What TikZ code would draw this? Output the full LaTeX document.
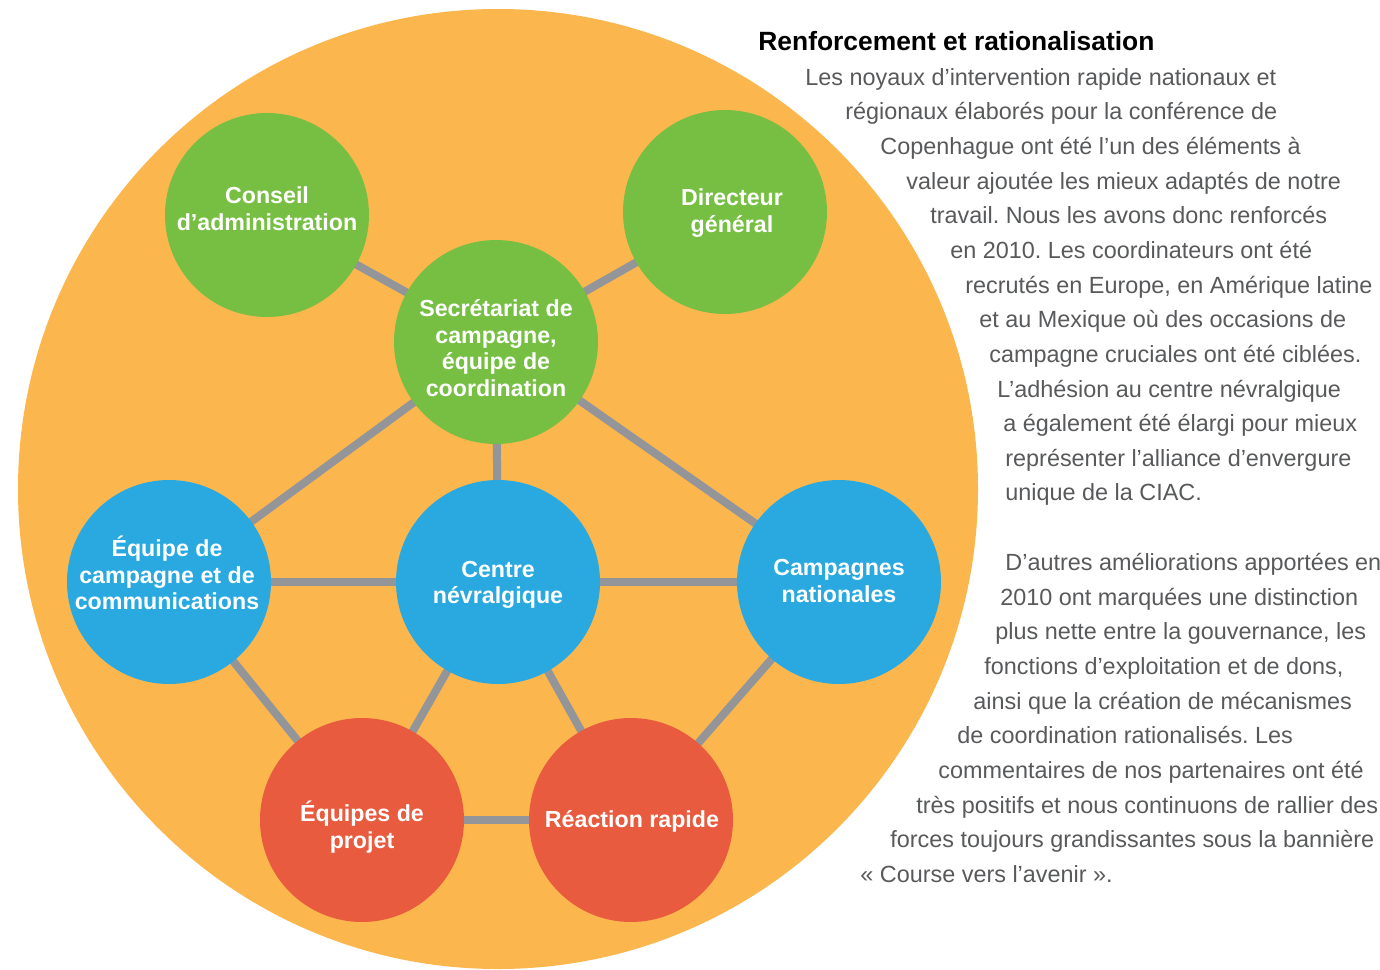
\documentclass[tikz,border=0pt]{standalone}
\usepackage{fontspec}
\setmainfont{Liberation Sans}
\usetikzlibrary{backgrounds}
\definecolor{bigorange}{HTML}{FBB74E}
\definecolor{cgreen}{HTML}{76BF43}
\definecolor{cblue}{HTML}{29A9E0}
\definecolor{cred}{HTML}{E95B3F}
\definecolor{cgray}{HTML}{939598}
\definecolor{txtgray}{HTML}{58595B}
\frenchspacing
\tikzset{
  bubble/.style={circle, minimum size=102pt, inner sep=0pt},
  greenb/.style={bubble, fill=cgreen},
  blueb/.style={bubble, fill=cblue},
  redb/.style={bubble, fill=cred},
  btext/.style={inner sep=0pt, align=center, text=white,
    font=\bfseries\fontsize{11.6}{13.3}\selectfont},
  link/.style={draw=cgray, line width=4pt},
  bodyline/.style={anchor=mid west, inner sep=0pt, text=txtgray, font=\fontsize{11.7}{14}\selectfont},
  titleline/.style={anchor=mid west, inner sep=0pt, text=black, font=\bfseries\fontsize{13.2}{15}\selectfont}
}
\begin{document}
\begin{tikzpicture}[x=0.5pt,y=-0.5pt]
\useasboundingbox (0,0) rectangle (1380,969);
\node[greenb] (conseil) at (267,215) {};
\node[greenb] (dir) at (725,212) {};
\node[greenb] (secr) at (496,342) {};
\node[blueb] (equipe) at (169,582) {};
\node[blueb] (centre) at (498,582) {};
\node[blueb] (camp) at (839,582) {};
\node[redb] (projet) at (362,820) {};
\node[redb] (reac) at (631,820) {};
\node[btext] (conseilT) at (267,209) {Conseil\\d’administration};
\node[btext] (dirT) at (732,213) {Directeur\\général};
\node[btext] (secrT) at (496,348) {Secrétariat de\\campagne,\\équipe de\\coordination};
\node[btext] (equipeT) at (167,573) {Équipe de\\campagne et de\\communications};
\node[btext] (centreT) at (498,585) {Centre\\névralgique};
\node[btext] (campT) at (839,581) {Campagnes\\nationales};
\node[btext] (projetT) at (362,827) {Équipes de\\projet};
\node[btext] (reacT) at (632,821) {Réaction rapide};
\begin{scope}[on background layer]
  \fill[bigorange] (498,489) circle[radius=480];
  \draw[link] (conseil.center) -- (secr.center);
  \draw[link] (dir.center) -- (secr.center);
  \draw[link] (secr.center) -- (equipe.center);
  \draw[link] (secr.center) -- (centre.center);
  \draw[link] (secr.center) -- (camp.center);
  \draw[link] (equipe.center) -- (centre.center);
  \draw[link] (centre.center) -- (camp.center);
  \draw[link] (equipe.center) -- (projet.center);
  \draw[link] (centre.center) -- (projet.center);
  \draw[link] (centre.center) -- (reac.center);
  \draw[link] (projet.center) -- (reac.center);
  \draw[link] (camp.center) -- (reac.center);
\end{scope}
\node[titleline] (title) at (758,45) {Renforcement et rationalisation};
\node[bodyline] (l1) at (805,80) {Les noyaux d’intervention rapide nationaux et};
\node[bodyline] (l2) at (845,114) {régionaux élaborés pour la conférence de};
\node[bodyline] (l3) at (880,149) {Copenhague ont été l’un des éléments à};
\node[bodyline] (l4) at (906,184) {valeur ajoutée les mieux adaptés de notre};
\node[bodyline] (l5) at (930,218) {travail. Nous les avons donc renforcés};
\node[bodyline] (l6) at (950,253) {en 2010. Les coordinateurs ont été};
\node[bodyline] (l7) at (965,288) {recrutés en Europe, en Amérique latine};
\node[bodyline] (l8) at (979,322) {et au Mexique où des occasions de};
\node[bodyline] (l9) at (989,357) {campagne cruciales ont été ciblées.};
\node[bodyline] (l10) at (997,392) {L’adhésion au centre névralgique};
\node[bodyline] (l11) at (1003,426) {a également été élargi pour mieux};
\node[bodyline] (l12) at (1005,461) {représenter l’alliance d’envergure};
\node[bodyline] (l13) at (1005,495) {unique de la CIAC.};
\node[bodyline] (m1) at (1005,565) {D’autres améliorations apportées en};
\node[bodyline] (m2) at (1000,600) {2010 ont marquées une distinction};
\node[bodyline] (m3) at (995,634) {plus nette entre la gouvernance, les};
\node[bodyline] (m4) at (984,669) {fonctions d’exploitation et de dons,};
\node[bodyline] (m5) at (973,704) {ainsi que la création de mécanismes};
\node[bodyline] (m6) at (957,738) {de coordination rationalisés. Les};
\node[bodyline] (m7) at (938,773) {commentaires de nos partenaires ont été};
\node[bodyline] (m8) at (916,808) {très positifs et nous continuons de rallier des};
\node[bodyline] (m9) at (890,842) {forces toujours grandissantes sous la bannière};
\node[bodyline] (m10) at (860,877) {« Course vers l’avenir ».};
\end{tikzpicture}
\end{document}
